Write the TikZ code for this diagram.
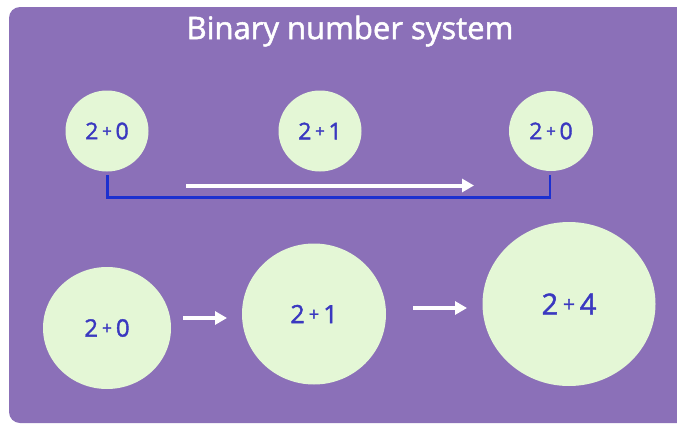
\documentclass[tikz,border=0pt]{standalone}
\usepackage{fontspec}
\setmainfont{Open Sans}[FakeBold=1.6]
\usetikzlibrary{arrows.meta,shapes.geometric}
\definecolor{bgpurple}{HTML}{8B70B8}
\definecolor{bubble}{HTML}{E4F7D6}
\definecolor{numblue}{HTML}{3A38C0}
\definecolor{linkblue}{HTML}{1C30D0}
\tikzset{
  bub/.style={ellipse, fill=bubble, draw=none, inner sep=0pt, text=numblue},
  warrow/.style={draw=white, line width=4pt, -{Triangle[length=12pt,width=13pt]}},
  link/.style={draw=linkblue, line width=2.6pt}
}
\newcommand{\pl}{\,{\fontsize{0.72em}{1em}\selectfont\raisebox{0.14em}{+}}\,}
\begin{document}
\begin{tikzpicture}[x=1pt,y=-1pt]
\useasboundingbox (0,0) rectangle (677,423);
\fill[bgpurple, rounded corners=11pt] (9,7) rectangle (700,423);
\node[text=white, font=\fontsize{31}{36}\selectfont] (title) at (350,31) {Binary number system};
% top row
\node[bub, minimum width=83pt, minimum height=81pt, font=\fontsize{23}{27}\selectfont] (t1) at (107,131) {2\pl0};
\node[bub, minimum width=83pt, minimum height=81pt, font=\fontsize{23}{27}\selectfont] (t2) at (320,131) {2\pl1};
\node[bub, minimum width=84pt, minimum height=80pt, font=\fontsize{23}{27}\selectfont] (t3) at (551,131) {2\pl0};
\coordinate (c1) at (107.5,175);
\coordinate (c2) at (550,175);
\draw[link] (c1) -- (107.5,197.5) -| (c2);
\coordinate (a1) at (186,185.5);
\coordinate (a2) at (474,185.5);
\draw[warrow] (a1) -- (a2);
% bottom row
\node[bub, minimum width=128pt, minimum height=122pt, font=\fontsize{24}{28}\selectfont] (b1) at (107,328) {2\pl0};
\node[bub, minimum width=144pt, minimum height=141pt, font=\fontsize{25}{29}\selectfont] (b2) at (314,314) {2\pl1};
\node[bub, minimum width=173pt, minimum height=164pt, font=\fontsize{29}{34}\selectfont] (b3) at (569,304) {2\pl4};
\coordinate (d1) at (183,318);
\coordinate (d2) at (227,318);
\coordinate (e1) at (413,308);
\coordinate (e2) at (467,308);
\draw[warrow] (d1) -- (d2);
\draw[warrow] (e1) -- (e2);
\end{tikzpicture}
\end{document}
